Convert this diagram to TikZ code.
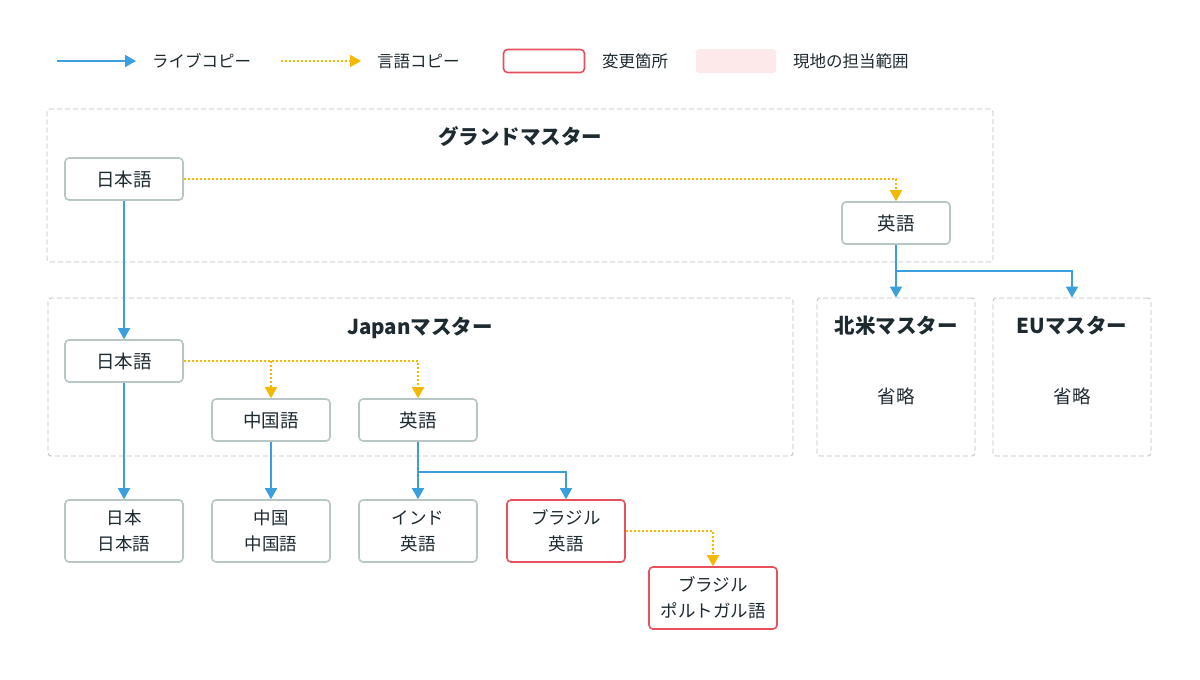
\documentclass[tikz,border=0pt]{standalone}
\usepackage{fontspec}
\setmainfont{Noto Sans CJK JP}
\usetikzlibrary{arrows.meta}
\definecolor{txt}{HTML}{1D2A30}
\definecolor{boxline}{HTML}{B8C6C6}
\definecolor{chg}{HTML}{E8505B}
\definecolor{pinkfill}{HTML}{FDE8EA}
\definecolor{live}{HTML}{3A9FDC}
\definecolor{lang}{HTML}{F5B800}
\definecolor{regline}{HTML}{BDBDBD}
\tikzset{
  box/.style={draw=boxline, line width=1.6pt, rounded corners=4pt, fill=white, text=txt, font=\fontsize{18.5}{22}\selectfont, align=center, inner sep=0pt},
  box2/.style={box, font=\fontsize{17.5}{26}\selectfont},
  chbox/.style={box2, draw=chg},
  region/.style={draw=regline, dash pattern=on 5pt off 3pt, line width=0.8pt, rounded corners=3pt, inner sep=0pt},
  rtitle/.style={text=txt, font=\fontsize{20.5}{24}\selectfont\bfseries},
  omit/.style={text=txt, font=\fontsize{18.5}{22}\selectfont},
  ltext/.style={text=txt, font=\fontsize{16.5}{20}\selectfont, anchor=west, inner sep=0pt},
  livearrow/.style={draw=live, line width=1.6pt, -{Triangle[width=12pt,length=11pt]}},
  langarrow/.style={draw=lang, line width=1.6pt, dash pattern=on 2pt off 2pt, -{Triangle[width=12pt,length=11pt]}},
}
\begin{document}
\begin{tikzpicture}[x=1pt,y=-1pt]
\useasboundingbox (0,0) rectangle (1200,680);
% legend
\coordinate (l1a) at (57,61); \coordinate (l1b) at (136,61);
\draw[livearrow] (l1a) -- (l1b);
\node[ltext] (lt1) at (152,61) {ライブコピー};
\coordinate (l2a) at (281,61); \coordinate (l2b) at (361,61);
\draw[langarrow] (l2a) -- (l2b);
\node[ltext] (lt2) at (377,61) {言語コピー};
\node[draw=chg, line width=1.6pt, rounded corners=4pt, minimum width=81pt, minimum height=23pt, inner sep=0pt] (lchg) at (544,61) {};
\node[ltext] (lt3) at (602,61) {変更箇所};
\node[fill=pinkfill, rounded corners=3pt, minimum width=80pt, minimum height=24pt, inner sep=0pt] (lpink) at (736,61) {};
\node[ltext] (lt4) at (793,61) {現地の担当範囲};
% regions
\node[region, minimum width=946pt, minimum height=153pt] (rg) at (520,185.5) {};
\node[rtitle] (tg) at (520,137) {グランドマスター};
\node[region, minimum width=745pt, minimum height=158pt] (rj) at (420.5,377) {};
\node[rtitle] (tj) at (420,328) {Japanマスター};
\node[region, minimum width=158pt, minimum height=158pt] (rn) at (896,377) {};
\node[rtitle] (tn) at (896,326) {北米マスター};
\node[omit] (on) at (896,396) {省略};
\node[region, minimum width=158pt, minimum height=158pt] (re) at (1072,377) {};
\node[rtitle] (te) at (1072,326) {EUマスター};
\node[omit] (oe) at (1072,396) {省略};
% grand master boxes
\node[box, minimum width=118pt, minimum height=42pt] (gj) at (124,179) {日本語};
\node[box, minimum width=108pt, minimum height=42pt] (ge) at (896,223) {英語};
% japan master boxes
\node[box, minimum width=118pt, minimum height=42pt] (jj) at (124,361) {日本語};
\node[box, minimum width=118pt, minimum height=42pt] (jc) at (271,420) {中国語};
\node[box, minimum width=118pt, minimum height=42pt] (je) at (418,420) {英語};
% bottom row
\node[box2, minimum width=118pt, minimum height=62pt] (bj) at (124,531) {日本\\日本語};
\node[box2, minimum width=118pt, minimum height=62pt] (bc) at (271,531) {中国\\中国語};
\node[box2, minimum width=118pt, minimum height=62pt] (bi) at (418,531) {インド\\英語};
\node[chbox, minimum width=118pt, minimum height=62pt] (bb) at (566,531) {ブラジル\\英語};
\node[chbox, minimum width=128pt, minimum height=62pt] (bp) at (713,598) {ブラジル\\ポルトガル語};
% connectors
\draw[langarrow] (gj.east) -| (ge.north);
\draw[livearrow] (gj.south) -- (jj.north);
\coordinate (gsplit) at (896,271);
\draw[livearrow] (ge.south) -- (rn.north);
\draw[livearrow] (gsplit) -| (re.north);
\draw[langarrow] (jj.east) -| (je.north);
\draw[langarrow] (jj.east -| jc.north) -- (jc.north);
\draw[livearrow] (jj.south) -- (bj.north);
\draw[livearrow] (jc.south) -- (bc.north);
\draw[livearrow] (je.south) -- (bi.north);
\coordinate (jsplit) at (418,472);
\draw[livearrow] (jsplit) -| (bb.north);
\draw[langarrow] (bb.east) -| (bp.north);
\end{tikzpicture}
\end{document}
